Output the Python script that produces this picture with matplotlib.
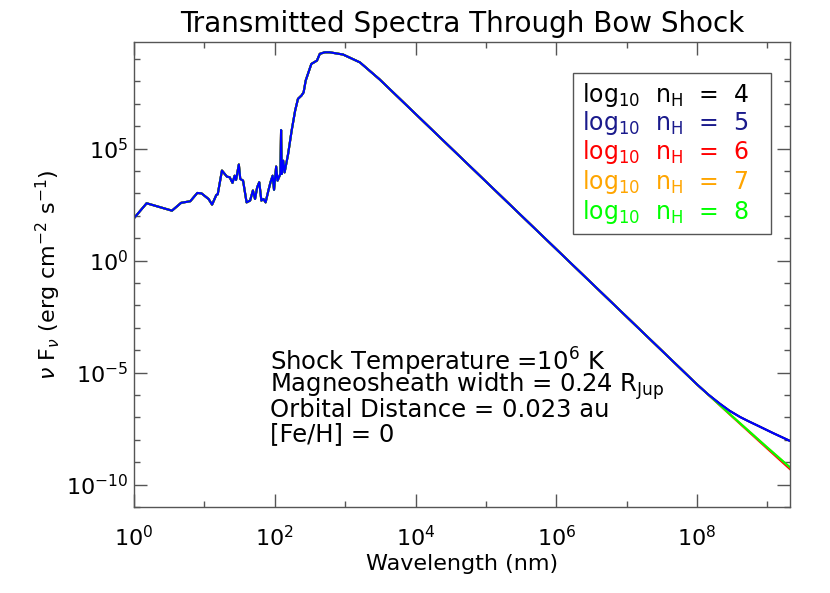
import numpy as np
import matplotlib
matplotlib.use('Agg')
import matplotlib.pyplot as plt
from matplotlib.patches import Rectangle
from matplotlib.ticker import LogLocator, NullFormatter

# log10 panjang gelombang (nm) dan log10 nu F_nu untuk bagian spektrum yang sama
log_wl = [0.01, 0.18, 0.54, 0.67, 0.80, 0.90, 0.96, 1.06, 1.11, 1.17, 1.19, 1.25, 1.32,
          1.36, 1.40, 1.43, 1.45, 1.49, 1.51, 1.55, 1.60, 1.65, 1.69, 1.72, 1.75, 1.78,
          1.81, 1.84, 1.87, 1.91, 1.94, 1.97, 1.99, 2.02, 2.04, 2.08, 2.09, 2.10, 2.12,
          2.14, 2.19, 2.24, 2.29, 2.33, 2.38, 2.41, 2.44, 2.48, 2.52, 2.60, 2.64, 2.71,
          2.78, 2.97, 3.21, 3.49, 4.0, 5.0, 6.0, 7.0, 8.0]
log_flux = [1.93, 2.56, 2.23, 2.58, 2.65, 3.02, 3.00, 2.75, 2.50, 2.93, 2.96, 4.02, 3.75,
            3.72, 3.47, 3.79, 3.60, 4.29, 3.65, 3.57, 2.60, 2.68, 3.13, 2.75, 3.27, 3.50,
            2.68, 2.75, 2.60, 3.13, 3.50, 3.79, 3.16, 4.20, 3.57, 3.87, 5.83, 3.87, 4.46,
            3.94, 4.76, 5.80, 6.70, 7.22, 7.37, 7.51, 8.04, 8.41, 8.78, 8.93, 9.23, 9.30,
            9.30, 9.20, 8.85, 8.09, 6.55, 3.53, 0.51, -2.51, -5.53]

# ekor spektrum (> 1e8 nm) untuk tiap kerapatan
tail_wl_hi = [8.0, 8.16, 8.32, 8.46, 8.61, 8.73, 8.85, 9.08, 9.32]
tail_flux_hi = [-5.53, -5.98, -6.38, -6.70, -6.98, -7.17, -7.35, -7.70, -8.05]
tail_wl_lo = [8.0, 8.5, 9.0, 9.32]
tail_flux_lo = [-5.53, -6.95, -8.35, -9.23]
tail_flux_red = [-5.53, -6.97, -8.40, -9.31]

log_nh = [4, 5, 6, 7, 8]
colors = ['black', '#1a1a8c', 'red', 'orange', '#00ff00']
line_colors = ['black', '#0000ff', 'red', 'orange', '#00ff00']

plt.rcParams['font.family'] = 'DejaVu Sans'
plt.rcParams['mathtext.fontset'] = 'dejavusans'

fig = plt.figure(figsize=(8.3, 5.93), dpi=100)
ax = fig.add_axes([0.1614, 0.145, 0.7904, 0.7842])

wl = 10 ** np.array(log_wl)
fl = 10 ** np.array(log_flux)

tails = {
    4: (tail_wl_hi, tail_flux_hi),
    5: (tail_wl_hi, tail_flux_hi),
    6: (tail_wl_lo, tail_flux_red),
    7: (tail_wl_lo, tail_flux_lo),
    8: (tail_wl_lo, tail_flux_lo),
}

# urutan gambar: biru paling atas
for n in [4, 6, 7, 8, 5]:
    tw, tf = tails[n]
    x = np.concatenate([wl, 10 ** np.array(tw[1:])])
    y = np.concatenate([fl, 10 ** np.array(tf[1:])])
    ax.plot(x, y, color=line_colors[log_nh.index(n)], lw=1.5)

ax.set_xscale('log')
ax.set_yscale('log')
ax.set_xlim(1, 10 ** 9.32)
ax.set_ylim(1e-11, 10 ** 9.76)

ax.xaxis.set_major_locator(LogLocator(base=100.0, numticks=20))
ax.xaxis.set_minor_locator(LogLocator(base=10.0, numticks=20))
ax.xaxis.set_minor_formatter(NullFormatter())
ax.yaxis.set_major_locator(LogLocator(base=1e5, numticks=20))
ax.yaxis.set_minor_locator(LogLocator(base=10.0, numticks=40))
ax.yaxis.set_minor_formatter(NullFormatter())

ax.tick_params(which='both', direction='in', top=True, right=True, color='#555555',
               labelsize=16)
ax.tick_params(axis='x', which='major', pad=13)
ax.tick_params(axis='y', which='major', pad=4)
ax.tick_params(which='major', length=9.5, width=1)
ax.tick_params(which='minor', length=4.5, width=1)
for s in ax.spines.values():
    s.set_color('#555555')
    s.set_linewidth(1)

fig.text(0.557, 1 - 32 / 593, 'Transmitted Spectra Through Bow Shock', fontsize=20,
         ha='center', va='baseline')
ax.set_xlabel('Wavelength (nm)', fontsize=16, labelpad=3)
ax.set_ylabel(r'$\nu$ F$_\nu$ (erg cm$^{-2}$ s$^{-1}$)', fontsize=16, labelpad=2)

# kotak legenda
ax.add_patch(Rectangle((0.669, 0.587), 0.302, 0.347, transform=ax.transAxes,
                       fill=False, edgecolor='#555555', lw=1))
ys = [0.886, 0.826, 0.763, 0.699, 0.634]
for n, c, yy in zip(log_nh, colors, ys):
    ax.text(0.683, yy, r'log$_{10}$  n$_{\rm H}$  =  %d' % n, transform=ax.transAxes,
            color=c, fontsize=17, va='center', ha='left')

# keterangan parameter
notes = [r'Shock Temperature =10$^6$ K',
         r'Magneosheath width = 0.24 R$_{\rm Jup}$',
         r'Orbital Distance = 0.023 au',
         r'[Fe/H] = 0']
note_y = [0.312, 0.260, 0.208, 0.156]
for t, yy in zip(notes, note_y):
    ax.text(0.207, yy, t, transform=ax.transAxes, fontsize=17.5, va='center', ha='left')

plt.savefig('out.png', dpi=100)
